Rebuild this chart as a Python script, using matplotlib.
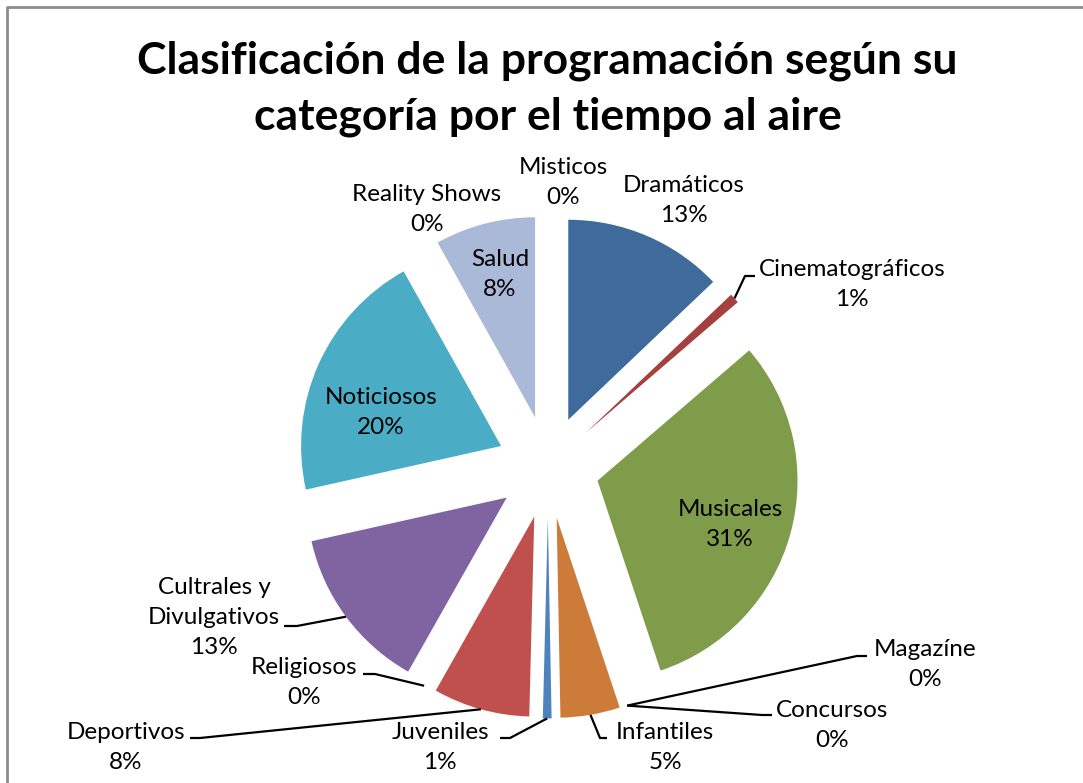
import math
import matplotlib
matplotlib.use("Agg")
import matplotlib.pyplot as plt

# Data
categories = ["Dramáticos", "Cinematográficos", "Musicales", "Magazíne", "Concursos",
              "Infantiles", "Juveniles", "Deportivos", "Religiosos",
              "Cultrales y\nDivulgativos", "Noticiosos", "Salud", "Reality Shows", "Misticos"]
values = [12.9, 0.8, 31.2, 0, 0, 4.8, 0.7, 7.8, 0, 13.3, 20.4, 8.1, 0, 0]
colors = ["#3f6a9c", "#a4403d", "#7f9c4a", "#664f83", "#3b8ba0", "#cd7b39",
          "#4f81bd", "#c0504d", "#9bbb59", "#8064a2", "#4bacc6", "#aab9d8",
          "#f79646", "#93a9cf"]

title = "Clasificación de la programación según su\ncategoría por el tiempo al aire"

W, H = 1083, 783
FONT = "Lato"

# label layout, pixel coords (x center, y of first line) and leader polyline points
label_pos = {
    "Dramáticos": (684, 184), "Cinematográficos": (852, 268), "Musicales": (730, 508),
    "Magazíne": (925, 648), "Concursos": (832, 709), "Infantiles": (665, 731),
    "Juveniles": (440, 731), "Deportivos": (126, 731), "Religiosos": (304, 666),
    "Cultrales y\nDivulgativos": (214, 585), "Noticiosos": (381, 396),
    "Salud": (500, 258), "Reality Shows": (427, 193), "Misticos": (563, 166),
}
leaders = {
    "Cinematográficos": [(745, 276), (755, 276)],
    "Magazíne": [(857, 656), (867, 656)],
    "Concursos": [(762, 715), (772, 715)],
    "Infantiles": [(600, 738), (607, 738)],
    "Juveniles": [(510, 738), (500, 738)],
    "Deportivos": [(200, 738), (190, 738)],
    "Religiosos": [(375, 674), (363, 674)],
    "Cultrales y\nDivulgativos": [(297, 626), (284, 626)],
}

fig = plt.figure(figsize=(W / 100, H / 100), dpi=100)
ax = fig.add_axes([0, 0, 1, 1])

cx, cy, r = 548, 467, 200
expl = 51.4

ax.pie(values, colors=colors, startangle=90, counterclock=False, radius=r,
       center=(cx, H - cy), explode=[expl] * len(values),
       wedgeprops=dict(linewidth=0), frame=True)
ax.set_xlim(0, W)
ax.set_ylim(0, H)
ax.set_aspect("auto")
ax.axis("off")

total = sum(values)
start = 90.0
for cat, v in zip(categories, values):
    sweep = 360.0 * v / total
    mid = math.radians(start - sweep / 2)
    start -= sweep
    pct = round(100 * v / total)
    tx, ty = label_pos[cat]
    nlines = cat.count("\n") + 2
    ax.text(tx, H - ty - (nlines - 1) * 16.3, f"{cat}\n{pct}%", ha="center", va="center",
            fontsize=17.5, family=FONT, linespacing=1.54, color="black")
    if cat in leaders:
        ax_ = cx + (r + expl) * math.cos(mid)
        ay_ = (H - cy) + (r + expl) * math.sin(mid)
        pts = [(ax_, ay_)] + [(px, H - py) for px, py in leaders[cat]]
        ax.plot([p[0] for p in pts], [p[1] for p in pts], color="black", lw=1.6,
                solid_capstyle="butt")

ax.text(W / 2 + 6, H - 89, title, ha="center", va="center", fontsize=32,
        fontweight="bold", family=FONT, linespacing=1.47)

# chart border
ax.plot([7, 7, W], [0, H - 7, H - 7], color="#8c8c8c", lw=2)

fig.savefig("out.png", dpi=100)
